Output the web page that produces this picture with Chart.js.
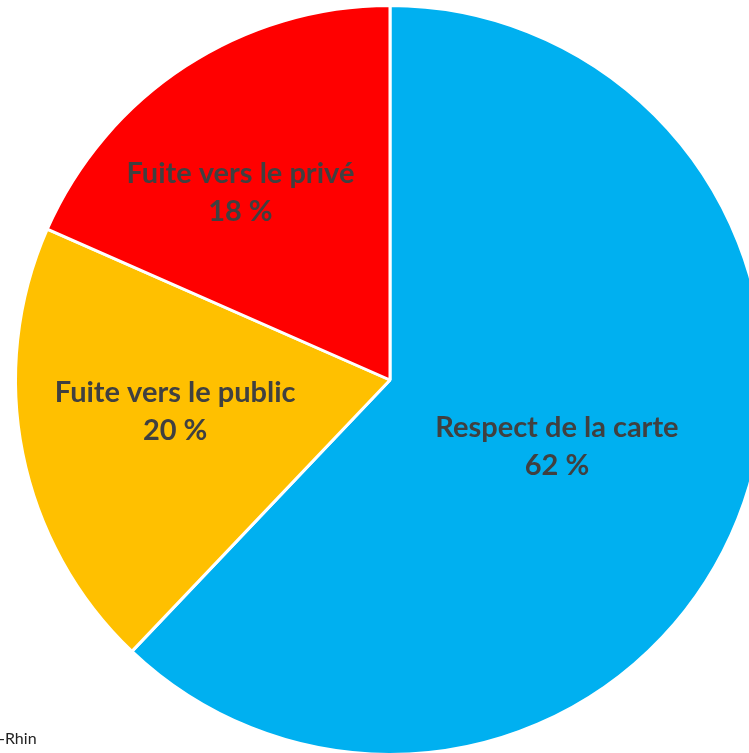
<!DOCTYPE html>
<html>
<head>
<meta charset="utf-8">
<script src="https://cdn.jsdelivr.net/npm/chart.js@4"></script>
<style>
    html, body { margin: 0; padding: 0; background: #fff; overflow: hidden; }
    #wrap { position: relative; width: 749px; height: 753px; overflow: hidden; }
    #pieChart { position: absolute; left: 0; top: 0; }
    #source {
        position: absolute; left: -1px; top: 728px;
        font-family: Lato, "Liberation Sans", sans-serif; font-size: 16px; color: #222;
    }
</style>
</head>
<body>
<div id="wrap">
    <canvas id="pieChart" width="780" height="760"></canvas>
    <div id="source">-Rhin</div>
</div>
<script>
// Data
const categories = ["Respect de la carte", "Fuite vers le public", "Fuite vers le privé"];
const shares = [62.1, 19.5, 18.4];
const sliceColors = ["#00B0F0", "#FFC000", "#FF0000"];

// label placement: fraction of radius, and angle nudge (degrees)
const labelRadius = [0.48, 0.58, 0.64];
const labelNudge = [0, 2.9, -5.5];

const sliceLabels = {
    id: "sliceLabels",
    afterDatasetsDraw(chart) {
        const ctx = chart.ctx;
        const arcs = chart.getDatasetMeta(0).data;
        ctx.save();
        ctx.fillStyle = "#404040";
        ctx.font = "bold 29px Lato, 'Liberation Sans', sans-serif";
        ctx.textAlign = "center";
        ctx.textBaseline = "middle";
        arcs.forEach((arc, i) => {
            const p = arc.getProps(["x", "y", "startAngle", "endAngle", "outerRadius"], true);
            const mid = (p.startAngle + p.endAngle) / 2 + labelNudge[i] * Math.PI / 180;
            const r = p.outerRadius * labelRadius[i];
            const x = p.x + Math.cos(mid) * r;
            const y = p.y + Math.sin(mid) * r;
            ctx.fillText(categories[i], x, y - 19);
            ctx.fillText(Math.round(shares[i]) + " %", x, y + 19);
        });
        ctx.restore();
    }
};

const ctx = document.getElementById("pieChart").getContext("2d");
new Chart(ctx, {
    type: "pie",
    data: {
        labels: categories,
        datasets: [{
            data: shares,
            backgroundColor: sliceColors,
            borderColor: "#ffffff",
            borderWidth: 3,
            offset: 0,
            hoverOffset: 0
        }]
    },
    options: {
        responsive: false,
        animation: false,
        devicePixelRatio: 1,
        layout: { padding: { left: 14, top: 4, right: 14, bottom: 4 } },
        plugins: {
            legend: { display: false },
            tooltip: { enabled: false }
        }
    },
    plugins: [sliceLabels]
});
</script>
</body>
</html>
